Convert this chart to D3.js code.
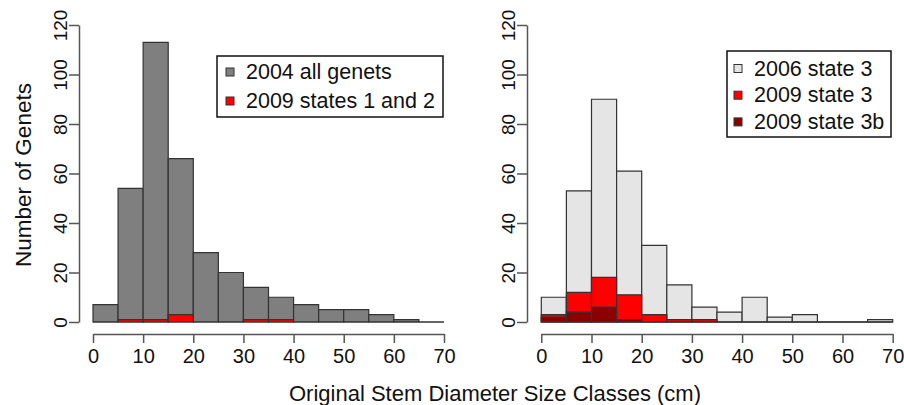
<!DOCTYPE html>
<html><head><meta charset="utf-8">
<script src="https://cdn.jsdelivr.net/npm/d3@7"></script>
<style>body{margin:0;background:#fff}svg{display:block;font-family:"Liberation Sans",Arial,sans-serif}</style>
</head><body>
<svg id="c" width="904" height="405"></svg>
<script>
const breaks = [0,5,10,15,20,25,30,35,40,45,50,55,60,65,70];
const counts2004All = [7,54,113,66,28,20,14,10,7,5,5,3,1,0];
const counts2009States12 = [0,1,1,3,0,0,1,1,0,0,0,0,0,0];
const counts2006State3 = [10,53,90,61,31,15,6,4,10,2,3,0,0,1];
const counts2009State3 = [3,12,18,11,3,1,1,0,0,0,0,0,0,0];
const counts2009State3b = [2,4,6,1,0,0,0,0,0,0,0,0,0,0];
const xTicks = [0,10,20,30,40,50,60,70];
const yTicks = [0,20,40,60,80,100,120];

const svg = d3.select("#c");
const axisCol = "#555", barStroke = "#333";

function panel(x0, x1, yAxisX, series, legend) {
  const x = d3.scaleLinear().domain([0,70]).range([x0, x1]);
  const y = d3.scaleLinear().domain([0,120]).range([322, 25]);
  const g = svg.append("g");
  series.forEach(s => {
    g.append("g").selectAll("path").data(s.values).join("path")
      .attr("d", (d,i) => {
        const p = d3.path();
        p.rect(x(breaks[i]), y(d), x(breaks[i+1]) - x(breaks[i]), y(0) - y(d));
        return p.toString();
      })
      .attr("fill", s.color)
      .attr("stroke", barStroke).attr("stroke-width", 1.2);
  });
  // y axis
  const ya = g.append("g").attr("transform", `translate(${yAxisX},0)`)
    .call(d3.axisLeft(y).tickValues(yTicks).tickSize(10).tickSizeOuter(0).tickPadding(0));
  ya.select(".domain").attr("stroke", axisCol).attr("stroke-width", 1.5);
  ya.selectAll(".tick line").attr("stroke", axisCol).attr("stroke-width", 1.5);
  ya.selectAll(".tick text")
    .attr("font-size", 19).attr("fill", "#111")
    .attr("x", 0).attr("dy", null)
    .attr("transform", "translate(-19,0) rotate(-90)")
    .attr("text-anchor", "middle").attr("dominant-baseline", "central");
  // x axis
  const xa = g.append("g").attr("transform", "translate(0,334)")
    .call(d3.axisBottom(x).tickValues(xTicks).tickSize(9).tickSizeOuter(0).tickPadding(6));
  xa.select(".domain").attr("stroke", axisCol).attr("stroke-width", 1.5);
  xa.selectAll(".tick line").attr("stroke", axisCol).attr("stroke-width", 1.5);
  xa.selectAll(".tick text").attr("font-size", 20).attr("fill", "#111");
  // legend
  const L = legend;
  g.append("rect").attr("x", L.x).attr("y", L.y).attr("width", L.w).attr("height", L.h)
    .attr("fill", "#fff").attr("stroke", "#111").attr("stroke-width", 1.5);
  L.items.forEach((it, i) => {
    const cy = L.y0 + i * L.dy;
    g.append("rect").attr("x", L.sx).attr("y", cy - 4).attr("width", 8).attr("height", 8)
      .attr("fill", it.color).attr("stroke", "#333").attr("stroke-width", 1);
    g.append("text").attr("x", L.tx).attr("y", cy).attr("dominant-baseline", "central")
      .attr("font-size", 21.5).attr("fill", "#111").text(it.label);
  });
}

panel(93, 444, 79, [
  {values: counts2004All, color: "#7f7f7f"},
  {values: counts2009States12, color: "#ff0000"}
], {x: 217, y: 56, w: 226, h: 61, sx: 226, tx: 246, y0: 72, dy: 29,
    items: [{label: "2004 all genets", color: "#7f7f7f"}, {label: "2009 states 1 and 2", color: "#ff0000"}]});

panel(541.3, 892.7, 527, [
  {values: counts2006State3, color: "#e5e5e5"},
  {values: counts2009State3, color: "#ff0000"},
  {values: counts2009State3b, color: "#8b0000"}
], {x: 727, y: 51, w: 164, h: 86, sx: 734, tx: 754, y0: 68.5, dy: 26.7,
    items: [{label: "2006 state 3", color: "#e5e5e5"}, {label: "2009 state 3", color: "#ff0000"}, {label: "2009 state 3b", color: "#8b0000"}]});

svg.append("text").attr("x", 495).attr("y", 393).attr("text-anchor", "middle")
  .attr("dominant-baseline", "central").attr("font-size", 22).attr("fill", "#111")
  .text("Original Stem Diameter Size Classes (cm)");
svg.append("text").attr("transform", "translate(23,175) rotate(-90)").attr("text-anchor", "middle")
  .attr("dominant-baseline", "central").attr("font-size", 22.5).attr("fill", "#111")
  .text("Number of Genets");
</script>
</body></html>
